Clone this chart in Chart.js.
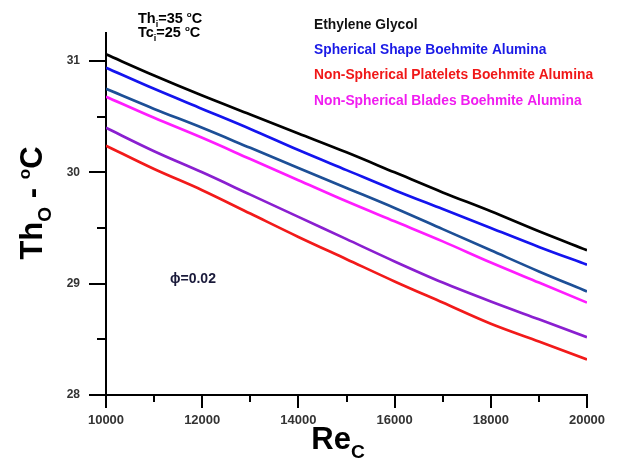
<!DOCTYPE html>
<html>
<head>
<meta charset="utf-8">
<script src="https://cdn.jsdelivr.net/npm/chart.js@4/dist/chart.umd.min.js"></script>
<style>
  html, body { margin: 0; padding: 0; background: #fff; }
  #wrap { width: 635px; height: 458px; position: relative; }
</style>
</head>
<body>
<div id="wrap"><canvas id="c" width="635" height="458"></canvas></div>
<script>
// ---- data ----
const reynolds = [10000, 11000, 12000, 13000, 14000, 15000, 16000, 17000, 18000, 19000, 20000];
const ethyleneGlycol = [31.06, 30.87, 30.69, 30.52, 30.35, 30.18, 30.00, 29.82, 29.65, 29.47, 29.30];
const sphericalShape = [30.94, 30.75, 30.57, 30.39, 30.20, 30.02, 29.84, 29.67, 29.50, 29.33, 29.17];
const unlabeledDarkBlue = [30.75, 30.57, 30.40, 30.22, 30.04, 29.86, 29.68, 29.49, 29.30, 29.11, 28.93];
const nonSphericalBlades = [30.68, 30.49, 30.31, 30.12, 29.93, 29.74, 29.56, 29.38, 29.19, 29.01, 28.83];
const unlabeledPurple = [30.40, 30.19, 30.00, 29.80, 29.60, 29.40, 29.20, 29.01, 28.84, 28.68, 28.52];
const nonSphericalPlatelets = [30.24, 30.03, 29.84, 29.63, 29.42, 29.22, 29.02, 28.83, 28.64, 28.48, 28.32];

const xTickLabels = [10000, 12000, 14000, 16000, 18000, 20000];
const yTickLabels = [28, 29, 30, 31];
const legendLabels = [
  "Ethylene Glycol",
  "Spherical Shape Boehmite Alumina",
  "Non-Spherical Platelets Boehmite Alumina",
  "Non-Spherical Blades Boehmite Alumina"
];
const legendColors = ["#111111", "#1a1ae6", "#f01818", "#f01cf0"];

// ---- chart ----
function series(vals) { return reynolds.map((r, i) => ({ x: r, y: vals[i] })); }
function ds(label, vals, color) {
  return { label, data: series(vals), borderColor: color, backgroundColor: color,
    borderWidth: 2.7, pointRadius: 0, cubicInterpolationMode: "monotone", fill: false };
}

const FONT = "'Liberation Sans', Arial, sans-serif";

function drawRich(ctx, parts, x, y, size, align) {
  const items = parts.map(p => {
    const s = p.sub ? size * 0.62 : p.sup ? size * 0.55 : size;
    ctx.font = "bold " + s + "px " + FONT;
    return { t: p.t, s, w: ctx.measureText(p.t).width, dy: p.sub ? size * 0.28 : p.sup ? -size * 0.38 : 0 };
  });
  const total = items.reduce((a, b) => a + b.w, 0);
  let cx = align === "center" ? x - total / 2 : x;
  ctx.textAlign = "left";
  items.forEach(it => {
    ctx.font = "bold " + it.s + "px " + FONT;
    ctx.fillText(it.t, cx, y + it.dy);
    cx += it.w;
  });
}

const decor = {
  id: "decor",
  afterDraw(chart) {
    const ctx = chart.ctx;
    const xs = chart.scales.x, ys = chart.scales.y;
    const ca = chart.chartArea;
    ctx.save();
    ctx.strokeStyle = "#000";
    ctx.lineWidth = 2;
    for (let v = 28; v <= 31.001; v += 0.5) {
      const py = Math.round(ys.getPixelForValue(v));
      const len = Number.isInteger(v) ? 17 : 9;
      ctx.beginPath(); ctx.moveTo(ca.left - len, py); ctx.lineTo(ca.left, py); ctx.stroke();
    }
    for (let v = 10000; v <= 20000; v += 1000) {
      const px = Math.round(xs.getPixelForValue(v));
      const len = (v % 2000 === 0) ? 13 : 7;
      ctx.beginPath(); ctx.moveTo(px, ca.bottom); ctx.lineTo(px, ca.bottom + len); ctx.stroke();
    }
    ctx.fillStyle = "#000";
    ctx.textBaseline = "alphabetic";
    drawRich(ctx, [{ t: "Re" }, { t: "C", sub: true }], 338, 449, 31, "center");
    ctx.save();
    ctx.translate(42, 203);
    ctx.rotate(-Math.PI / 2);
    drawRich(ctx, [{ t: "Th" }, { t: "O", sub: true }, { t: " - " }, { t: "o", sup: true }, { t: "C" }], 0, 0, 31, "center");
    ctx.restore();
    drawRich(ctx, [{ t: "Th" }, { t: "i", sub: true }, { t: "=35 " }, { t: "o", sup: true }, { t: "C" }], 138, 22.5, 14.5, "left");
    drawRich(ctx, [{ t: "Tc" }, { t: "i", sub: true }, { t: "=25 " }, { t: "o", sup: true }, { t: "C" }], 138, 36.5, 14.5, "left");
    ctx.fillStyle = "#1a1a3a";
    drawRich(ctx, [{ t: "\u03D5=0.02" }], 170, 283, 14, "left");
    ctx.font = "bold 13.8px " + FONT;
    ctx.textAlign = "left";
    ctx.textBaseline = "middle";
    legendLabels.forEach((lab, i) => {
      ctx.fillStyle = legendColors[i];
      ctx.fillText(lab, 314, 25 + i * 25.3);
    });
    ctx.restore();
  }
};

new Chart(document.getElementById("c"), {
  type: "line",
  data: {
    datasets: [
      ds(legendLabels[0], ethyleneGlycol, "#000000"),
      ds(legendLabels[1], sphericalShape, "#1414ee"),
      ds("", unlabeledDarkBlue, "#1d4f96"),
      ds(legendLabels[3], nonSphericalBlades, "#ff1cff"),
      ds("", unlabeledPurple, "#8a1fd0"),
      ds(legendLabels[2], nonSphericalPlatelets, "#f21a1a")
    ]
  },
  options: {
    responsive: false,
    animation: false,
    layout: { padding: { left: 0, top: 12, right: 48, bottom: 0 } },
    plugins: { legend: { display: false }, tooltip: { enabled: false } },
    scales: {
      x: {
        type: "linear", min: 10000, max: 20000,
        afterBuildTicks(scale) { scale.ticks = xTickLabels.map(v => ({ value: v })); },
        afterFit(scale) { scale.height = 63; },
        ticks: {
          callback: v => String(v),
          font: { family: FONT, size: 13, weight: "bold" }, color: "#333",
          padding: 18, maxRotation: 0, autoSkip: false
        },
        grid: { display: false, drawTicks: false },
        border: { display: true, color: "#000", width: 2 }
      },
      y: {
        type: "linear", min: 28, max: 31.25,
        afterBuildTicks(scale) { scale.ticks = yTickLabels.map(v => ({ value: v })); },
        afterFit(scale) { scale.width = 106; },
        ticks: {
          callback: v => String(v),
          font: { family: FONT, size: 12, weight: "bold" }, color: "#333",
          padding: 26
        },
        grid: { display: false, drawTicks: false },
        border: { display: true, color: "#000", width: 2 }
      }
    }
  },
  plugins: [decor]
});
</script>
</body>
</html>
